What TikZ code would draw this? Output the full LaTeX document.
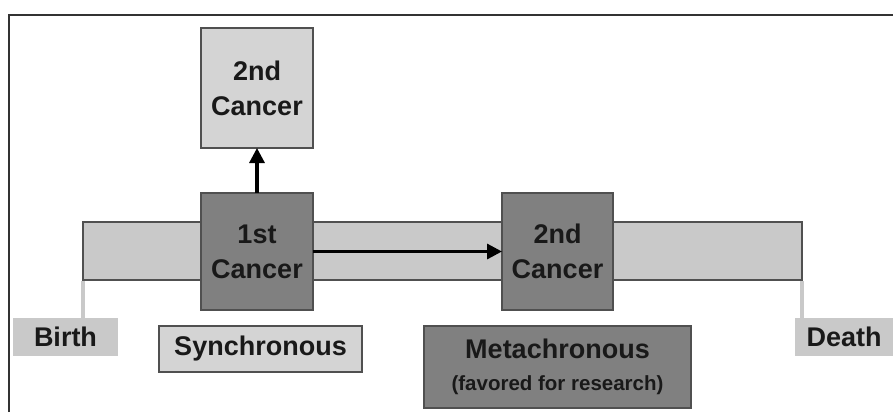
\documentclass[tikz,border=0pt]{standalone}
\usepackage{fontspec}
\setmainfont{Liberation Sans}
\usetikzlibrary{arrows.meta}
\definecolor{darkbox}{HTML}{808080}
\definecolor{lightbox}{HTML}{D4D4D4}
\definecolor{barfill}{HTML}{C9C9C9}
\definecolor{edge}{HTML}{505050}
\begin{document}
\begin{tikzpicture}[x=1pt,y=-1pt,
  every node/.style={inner sep=0pt, outer sep=0pt, font=\fontsize{27}{35}\selectfont\bfseries, text=black!90},
  darkcell/.style={draw=edge, line width=1.5pt, fill=darkbox, align=center},
  lightcell/.style={draw=edge, line width=1.5pt, fill=lightbox, align=center},
  tag/.style={fill=barfill},
  tagline/.style={draw=barfill, line width=4pt},
  flow/.style={draw=black, line width=3.2pt, -{Triangle[length=15pt,width=15pt]}}]
\useasboundingbox (0,0) rectangle (893,412);
\draw[line width=1.5pt, draw=black!80] (9,412) -- (9,15) -- (893,15);
% timeline bar
\node[draw=edge, line width=1.5pt, fill=barfill, minimum width=719pt, minimum height=58pt] (bar) at (442.5,251) {};
% labels
\node[tag, minimum width=105pt, minimum height=38pt] (birth) at (65.5,337) {Birth};
\node[tag, minimum width=98pt, minimum height=38pt] (death) at (844,337) {Death};
\draw[tagline] ([yshift=-0.75pt]bar.south west) -- (bar.south west |- birth.north);
\draw[tagline] ([yshift=-0.75pt]bar.south east) -- (bar.south east |- death.north);
% cancer boxes
\node[lightcell, minimum width=112pt, minimum height=120pt] (top2) at (257,88) {2nd\\Cancer};
\node[darkcell, minimum width=112pt, minimum height=117pt] (first) at (257,251.5) {1st\\Cancer};
\node[darkcell, minimum width=111pt, minimum height=117pt] (second) at (557.5,251.5) {2nd\\Cancer};
% type labels
\node[lightcell, minimum width=203pt, minimum height=46pt] (sync) at (260.5,349) {Synchronous};
\node[darkcell, minimum width=267pt, minimum height=82pt] (meta) at (557.5,367) {Metachronous\\[-3pt]{\fontsize{20.5}{24}\selectfont (favored for research)}};
% arrows
\draw[flow] (first.north) -- (top2.south);
\draw[flow] (first.east) -- (second.west);
\end{tikzpicture}
\end{document}
